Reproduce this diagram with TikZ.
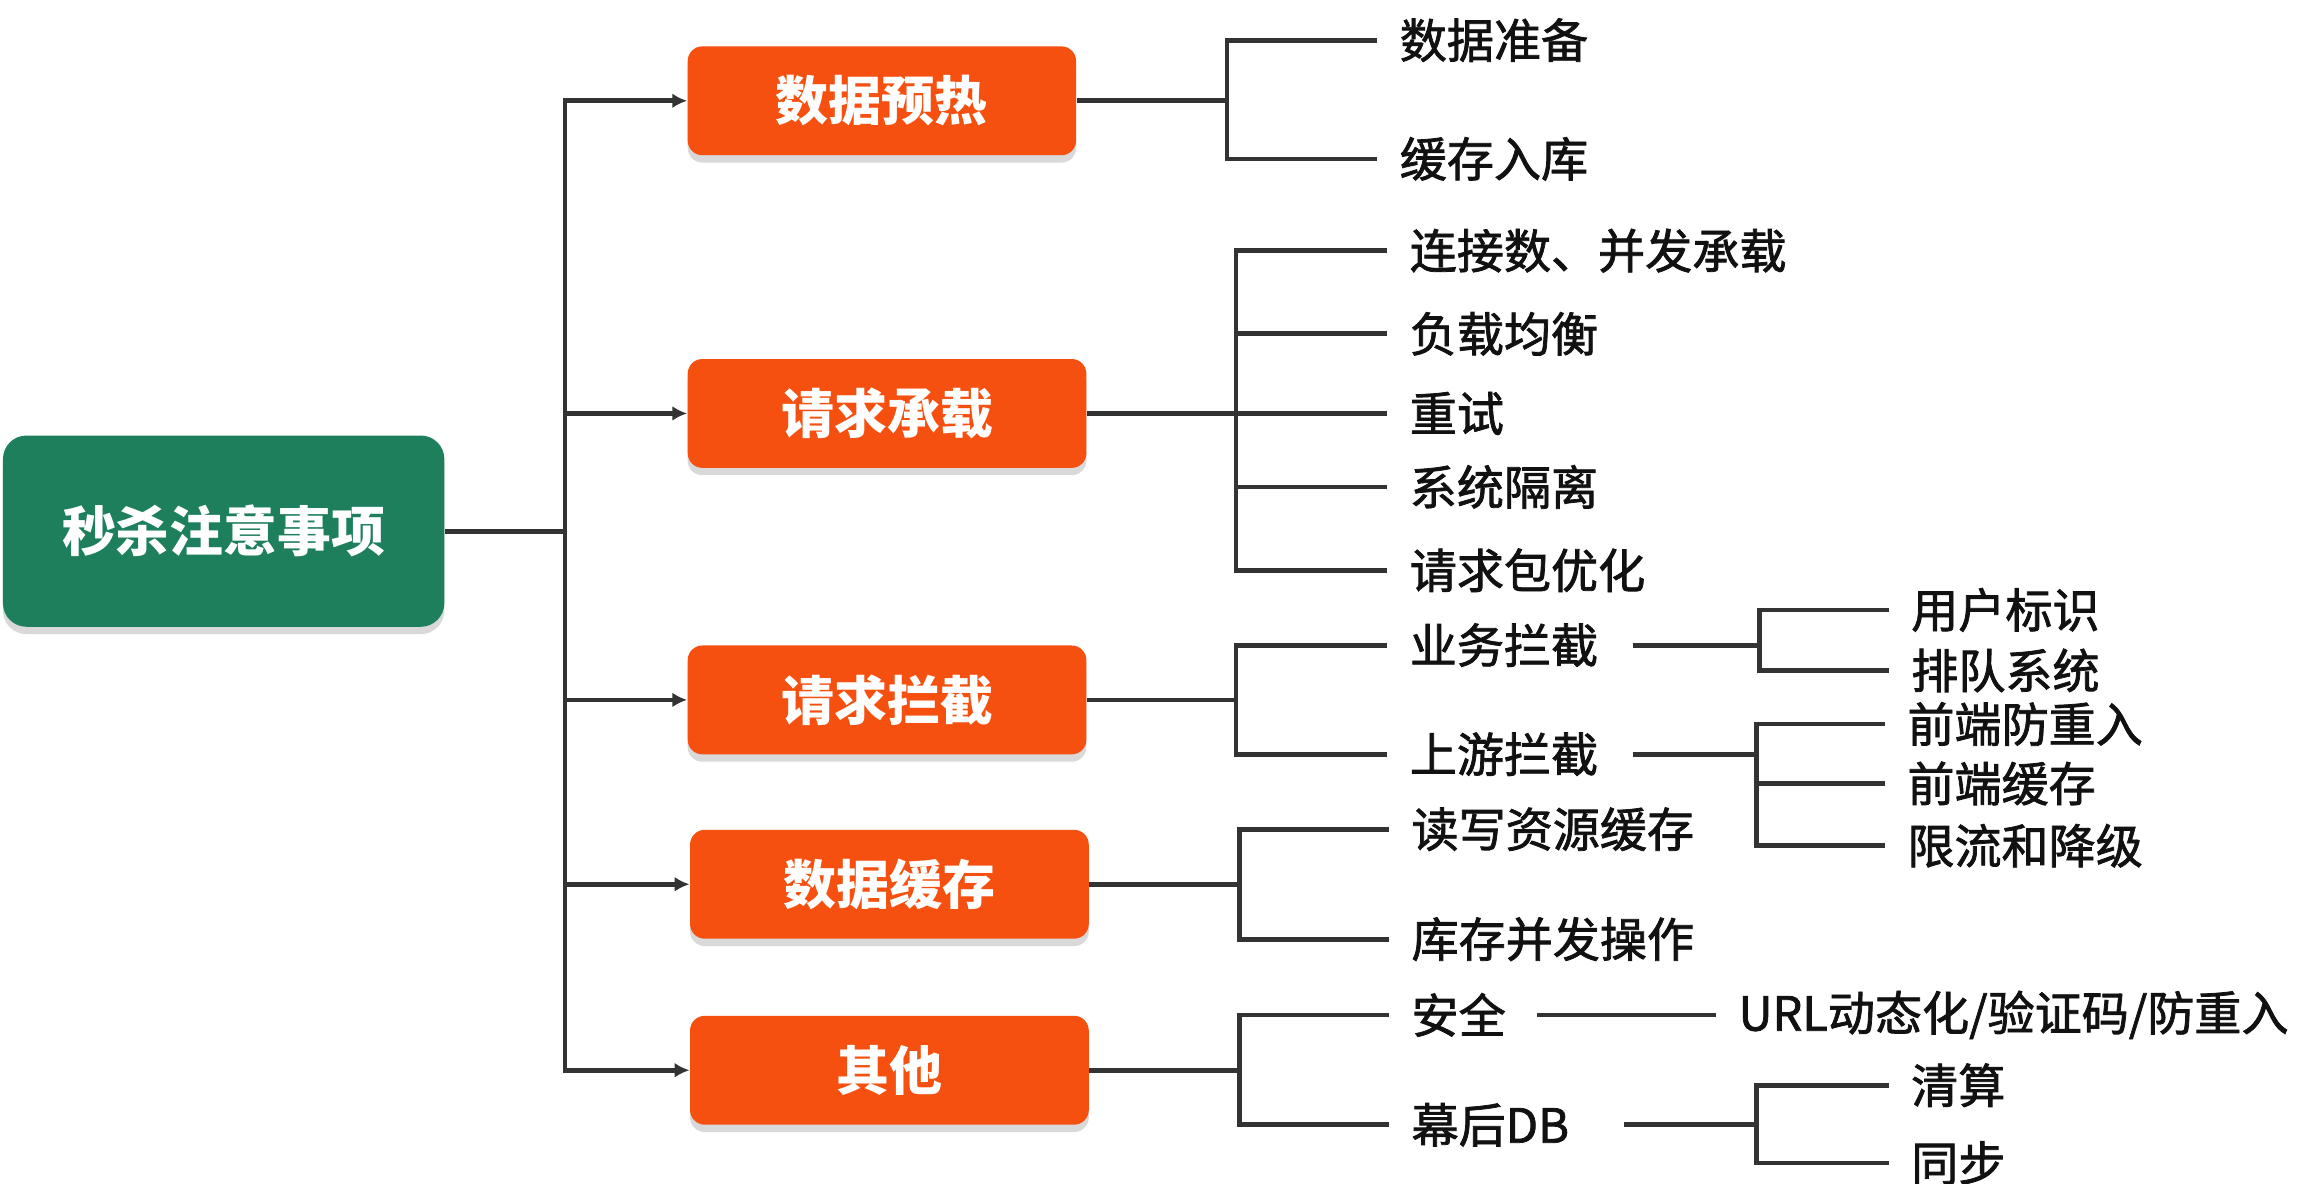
\documentclass[tikz,border=0pt]{standalone}
\usepackage{fontspec}
\setmainfont{Noto Sans CJK SC}
\newfontfamily\itemfont{Noto Sans CJK SC}[FakeBold=1.6]
\usetikzlibrary{arrows.meta,shadows}
\definecolor{rootgreen}{HTML}{1E7F5C}
\definecolor{topicorange}{HTML}{F5500F}
\definecolor{linegray}{HTML}{333333}
\definecolor{textblack}{HTML}{111111}

\begin{document}
\begin{tikzpicture}[x=0.5pt,y=-0.5pt,
	line/.style={draw=linegray,line width=1.6pt},
	sub/.style={line,shorten <=4pt},
	root/.style={rounded corners=8pt,fill=rootgreen,text=white,font=\bfseries\fontsize{18.3}{20}\selectfont,
	minimum width=150pt,minimum height=65pt,drop shadow={shadow xshift=0pt,shadow yshift=-2.5pt,opacity=.3}},
	topic/.style={rounded corners=5pt,fill=topicorange,text=white,font=\bfseries\fontsize{18}{20}\selectfont,
	minimum width=135.5pt,minimum height=37pt,drop shadow={shadow xshift=0pt,shadow yshift=-2.5pt,opacity=.3}},
	item/.style={anchor=west,inner xsep=7.5pt,inner ysep=0pt,text=textblack,font=\itemfont\fontsize{16}{18}\selectfont}]
\useasboundingbox (0,0) rectangle (1568,804.1);
\node[root] (root) at (152,361) {秒杀注意事项};
\node[topic,minimum width=132pt] (b1) at (599.4,68.5) {数据预热};
\node[topic] (b2) at (602.9,281) {请求承载};
\node[topic] (b3) at (602.9,475.7) {请求拦截};
\node[topic] (b4) at (604.5,601) {数据缓存};
\node[topic] (b5) at (604.5,727.4) {其他};
\coordinate (bus) at (384,361);
\draw[line] (root) -- (bus);
\foreach \b in {b1,b2,b3,b4,b5}
	\draw[line,-{Latex[length=5pt,width=5pt]}] (bus) |- (\b.west);
% second level
\node[item] (i11) at (936,27.3) {数据准备};
\node[item] (i12) at (936,108) {缓存入库};
\node[item] (i21) at (942.8,170.4) {连接数、并发承载};
\node[item] (i22) at (942.8,226.9) {负载均衡};
\node[item] (i23) at (942.8,281) {重试};
\node[item] (i24) at (942.8,330.9) {系统隔离};
\node[item] (i25) at (942.8,387.6) {请求包优化};
\node[item] (i31) at (942.8,438.5) {业务拦截};
\node[item] (i32) at (942.8,512.6) {上游拦截};
\node[item] (i41) at (944,563.6) {读写资源缓存};
\node[item] (i42) at (944,638.3) {库存并发操作};
\node[item] (i51) at (944,689.8) {安全};
\node[item] (i52) at (944,764.5) {幕后DB};
\coordinate (j1) at (834,68.5);
\coordinate (j2) at (840,281);
\coordinate (j3) at (840,475.7);
\coordinate (j4) at (842.3,601);
\coordinate (j5) at (842.3,727.4);
\draw[line] (b1) -- (j1);
\draw[line] (b2) -- (j2);
\draw[line] (b3) -- (j3);
\draw[line] (b4) -- (j4);
\draw[line] (b5) -- (j5);
\foreach \n in {i11,i12} \draw[line] (j1) |- (\n.west);
\foreach \n in {i21,i22,i23,i24,i25} \draw[line] (j2) |- (\n.west);
\foreach \n in {i31,i32} \draw[line] (j3) |- (\n.west);
\foreach \n in {i41,i42} \draw[line] (j4) |- (\n.west);
\foreach \n in {i51,i52} \draw[line] (j5) |- (\n.west);
% third level
\node[item] (k11) at (1283.6,414.5) {用户标识};
\node[item] (k12) at (1283.6,455.7) {排队系统};
\node[item] (k21) at (1281,492.1) {前端防重入};
\node[item] (k22) at (1281,532.5) {前端缓存};
\node[item] (k23) at (1281,574.8) {限流和降级};
\node[item] (k31) at (1166.2,689.8) {URL动态化/验证码/防重入};
\node[item] (k41) at (1283.6,737.6) {清算};
\node[item] (k42) at (1283.6,790.5) {同步};
\coordinate (m1) at (1196,438.5);
\coordinate (m2) at (1194,512.6);
\coordinate (m4) at (1194,764.5);
\draw[sub] (i31.east) -- (m1);
\draw[sub] (i32.east) -- (m2);
\draw[sub,shorten <=3pt] (i51.east) -- (k31.west);
\draw[sub,shorten <=11pt] (i52.east) -- (m4);
\foreach \n in {k11,k12} \draw[line] (m1) |- (\n.west);
\foreach \n in {k21,k22,k23} \draw[line] (m2) |- (\n.west);
\foreach \n in {k41,k42} \draw[line] (m4) |- (\n.west);
\end{tikzpicture}
\end{document}
